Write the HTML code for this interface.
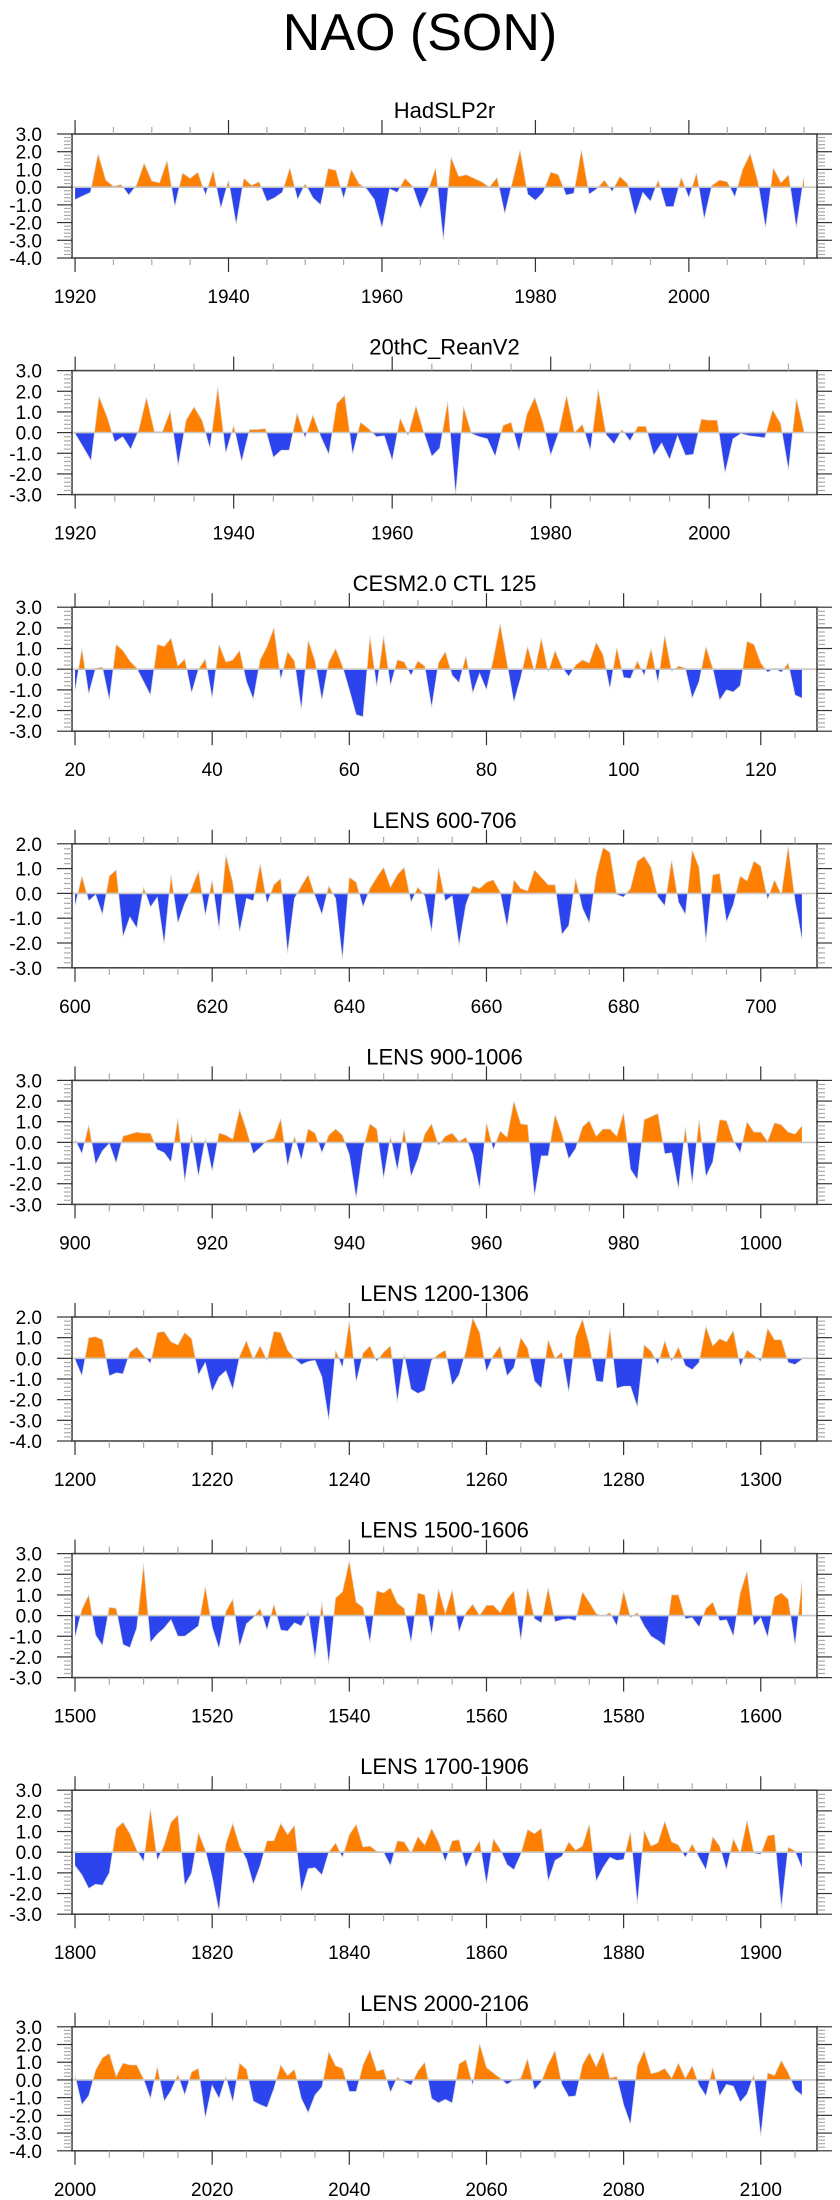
<!DOCTYPE html>
<html><head><meta charset="utf-8"><style>
html,body{margin:0;padding:0;background:#fff;}
svg{display:block;font-family:"Liberation Sans",sans-serif;}
</style></head>
<body>
<svg id="chart" width="840" height="2200" viewBox="0 0 840 2200" xmlns="http://www.w3.org/2000/svg">
<text x="420" y="50" text-anchor="middle" font-size="52" fill="#000">NAO (SON)</text>
</svg>
<script>
const titles = ["HadSLP2r","20thC_ReanV2","CESM2.0 CTL 125","LENS 600-706","LENS 900-1006","LENS 1200-1306","LENS 1500-1606","LENS 1700-1906","LENS 2000-2106"];
const startYears = [1920,1920,20,600,900,1200,1500,1800,2000];
const yMins = [-4,-3,-3,-3,-3,-4,-3,-3,-4];
const yMaxs = [3,3,3,2,3,2,3,3,3];
const xMins = [1919.6,1919.6,19.56,599.56,899.56,1199.56,1499.56,1799.56,1999.56];
const xMaxs = [2016.7,2013.6,128.2,708.2,1008.2,1308.2,1608.2,1908.2,2108.2];
const majorTicks = [
 [1920,1940,1960,1980,2000],[1920,1940,1960,1980,2000],[20,40,60,80,100,120],
 [600,620,640,660,680,700],[900,920,940,960,980,1000],[1200,1220,1240,1260,1280,1300],
 [1500,1520,1540,1560,1580,1600],[1800,1820,1840,1860,1880,1900],[2000,2020,2040,2060,2080,2100]];
const s0 = [-0.7,-0.5,-0.3,1.9,0.4,0.05,0.15,-0.45,0.1,1.35,0.35,0.25,1.5,-1.1,0.8,0.5,0.85,-0.45,0.95,-1.2,0.4,-2.1,0.5,0.1,0.3,-0.8,-0.6,-0.3,1.1,-0.7,0.2,-0.6,-1.0,1.05,0.95,-0.65,1.0,0.2,-0.1,-0.7,-2.3,-0.1,-0.3,0.5,0.05,-1.2,-0.2,1.1,-3.0,1.7,0.6,0.7,0.5,0.3,0.0,0.55,-1.5,0.3,2.1,-0.4,-0.75,-0.3,0.85,0.7,-0.45,-0.35,2.1,-0.4,-0.1,0.4,-0.25,0.6,0.2,-1.6,-0.3,-0.8,0.4,-1.1,-1.1,0.55,-0.6,0.8,-1.8,0.1,0.4,0.3,-0.55,1.0,1.9,0.3,-2.3,1.1,0.25,0.7,-2.3,0.6];
const s1 = [-0.05,-0.7,-1.35,1.75,0.8,-0.45,-0.2,-0.8,0.1,1.7,0.05,0.05,1.05,-1.6,0.6,1.25,0.6,-0.75,2.2,-1.0,0.35,-1.4,0.15,0.15,0.2,-1.2,-0.85,-0.85,0.95,-0.25,0.85,-0.2,-1.05,1.4,1.8,-1.05,0.5,0.2,-0.2,-0.15,-1.35,0.7,-0.15,1.3,0.0,-1.15,-0.75,1.5,-3.0,1.25,-0.05,-0.2,-0.3,-1.15,0.35,0.5,-0.9,0.9,1.7,0.5,-1.1,0.0,1.8,0.0,0.4,-0.85,2.1,-0.1,-0.55,0.15,-0.4,0.3,0.3,-1.1,-0.5,-1.3,-0.15,-1.1,-1.05,0.65,0.6,0.6,-1.95,-0.3,-0.05,-0.15,-0.2,-0.25,1.1,0.45,-1.8,1.65,0.0];
const s2 = [-1.05,1.0,-1.2,0.05,0.1,-1.5,1.2,0.9,0.4,0.05,-0.6,-1.25,1.2,1.1,1.5,0.15,0.5,-1.15,0.0,0.5,-1.4,1.2,0.35,0.45,0.9,-0.6,-1.45,0.45,1.1,2.0,-0.5,0.85,0.4,-1.95,1.4,0.4,-1.5,0.35,1.0,0.15,-1.0,-2.2,-2.3,1.6,-0.85,1.6,-0.8,0.45,0.35,-0.3,0.4,0.15,-1.85,0.3,0.85,-0.3,-0.65,0.65,-1.15,-0.2,-1.0,0.5,2.2,0.3,-1.6,-0.4,1.1,-0.1,1.5,-0.15,0.9,0.1,-0.35,0.2,0.45,0.3,1.3,0.7,-0.95,1.05,-0.4,-0.45,0.4,-0.3,1.0,-0.65,1.65,-0.1,0.15,0.05,-1.4,-0.6,1.1,0.05,-1.5,-1.0,-1.1,-0.8,1.35,1.2,0.3,-0.15,0.05,-0.15,0.3,-1.25,-1.4];
const s3 = [-0.5,0.7,-0.3,-0.05,-0.85,0.7,0.95,-1.75,-0.95,-1.4,0.25,-0.55,-0.15,-2.05,0.75,-1.2,-0.4,0.2,0.9,-0.9,0.55,-1.45,1.55,0.45,-1.55,-0.2,-0.3,1.2,-0.4,0.35,0.6,-2.4,-0.2,0.3,0.75,-0.1,-0.85,0.3,-0.2,-2.65,0.65,0.45,-0.55,0.2,0.65,1.05,0.25,0.75,1.05,-0.35,0.25,-0.1,-1.55,1.05,-0.3,-0.1,-2.1,-0.45,0.3,0.2,0.45,0.55,0.05,-1.35,0.55,0.2,0.1,0.95,0.65,0.35,0.35,-1.65,-1.3,0.6,-0.6,-1.2,0.75,1.85,1.65,-0.05,-0.15,0.2,1.3,1.5,1.05,-0.15,-0.5,1.35,-0.35,-0.85,1.75,1.05,-1.95,0.75,0.8,-1.15,-0.45,0.7,0.5,1.3,1.1,-0.25,0.55,-0.05,1.9,-0.3,-1.85];
const s4 = [0.15,-0.55,0.85,-1.05,-0.4,-0.05,-1.0,0.3,0.4,0.5,0.45,0.45,-0.35,-0.5,-0.95,1.15,-1.9,0.4,-1.65,0.2,-1.4,0.45,0.35,0.15,1.6,0.6,-0.55,-0.25,0.1,0.2,1.15,-1.15,0.3,-0.85,0.65,0.45,-0.5,0.35,0.65,0.35,-0.6,-2.7,-0.3,0.9,0.65,-1.75,0.3,-1.35,0.65,-1.65,-0.8,0.4,0.9,-0.15,0.3,0.45,0.05,0.25,-0.6,-2.25,0.95,-0.35,0.55,0.25,2.0,0.9,0.85,-2.6,-0.65,-0.65,1.35,0.4,-0.8,-0.3,0.75,1.05,0.3,0.65,0.65,0.3,1.45,-1.3,-1.8,1.1,1.25,1.4,-0.55,-0.5,-2.25,0.75,-2.0,1.1,-1.65,-0.95,1.1,1.05,0.1,-0.5,1.0,0.5,0.5,0.05,0.95,0.85,0.5,0.4,0.8];
const s5 = [-0.05,-0.85,1.0,1.05,0.9,-0.85,-0.7,-0.75,0.3,0.55,0.15,-0.25,1.25,1.3,0.8,0.65,1.25,0.95,-0.8,-0.2,-1.6,-0.9,-0.6,-1.5,0.1,0.85,-0.05,0.6,-0.1,1.3,1.25,0.4,0.0,-0.3,-0.15,-0.1,-0.9,-3.0,0.4,-0.45,1.8,-1.15,0.25,0.6,-0.15,0.3,0.6,-2.1,0.2,-1.5,-1.7,-1.55,-0.1,0.2,0.4,-1.3,-0.8,0.35,1.95,1.25,-0.65,0.15,0.6,-0.85,-0.45,1.0,0.5,-1.1,-1.45,0.9,0.0,0.3,-1.65,1.05,1.9,0.65,-1.1,-1.15,1.45,-1.45,-1.35,-1.35,-2.35,0.65,0.35,-0.3,0.85,-0.15,0.55,-0.35,-0.55,-0.2,1.55,0.6,0.95,0.8,1.35,-0.4,0.4,0.15,-0.15,1.45,0.9,0.9,-0.2,-0.3,-0.05];
const s6 = [-1.05,0.3,1.0,-0.95,-1.45,0.4,0.35,-1.4,-1.55,-0.6,2.5,-1.3,-0.9,-0.6,-0.2,-1.0,-1.0,-0.75,-0.5,1.4,-0.55,-1.6,0.2,0.8,-1.5,-0.4,-0.1,0.35,-0.7,0.55,-0.7,-0.75,-0.35,-0.5,0.2,-2.05,0.65,-2.35,0.85,1.15,2.65,0.65,0.4,-1.3,1.2,1.1,1.35,0.6,0.35,-1.3,1.1,1.0,-0.95,1.3,0.1,1.25,-0.8,0.15,0.55,0.0,0.5,0.5,0.15,0.8,1.2,-1.2,1.35,-0.15,-0.35,1.35,-0.3,-0.2,-0.15,-0.25,1.15,0.65,0.1,-0.05,0.15,-0.5,1.2,-0.1,0.15,-0.5,-1.0,-1.2,-1.45,1.0,1.0,-0.15,-0.1,-0.55,0.35,0.65,-0.25,-0.2,-1.0,1.1,2.15,-0.5,-0.1,-1.05,0.9,1.1,0.8,-1.45,1.6];
const s7 = [-0.65,-1.1,-1.75,-1.55,-1.6,-1.0,1.15,1.45,0.9,0.1,-0.45,2.1,-0.4,0.35,1.45,1.8,-1.6,-1.0,0.95,0.1,-1.2,-2.85,0.4,1.4,0.3,-0.35,-1.55,-0.65,0.55,0.55,1.4,0.85,1.3,-1.9,-0.8,-0.75,-1.1,0.0,0.45,-0.25,0.85,1.35,0.25,0.3,0.05,0.0,-0.65,0.55,0.5,-0.05,0.75,0.35,1.15,0.5,-0.45,0.55,0.6,-0.75,0.0,0.55,-1.55,0.65,0.15,-0.6,-0.85,-0.1,1.1,0.9,1.15,-1.4,-0.4,-0.2,0.5,0.1,0.3,1.35,-1.4,-0.75,-0.25,-0.4,-0.35,1.0,-2.5,1.05,0.3,0.45,1.5,0.5,0.35,-0.25,0.4,-0.25,-0.85,0.75,0.3,-0.85,0.65,-0.05,1.55,-0.05,-0.1,0.8,0.85,-2.7,0.25,0.05,-0.75];
const s8 = [0.25,-1.4,-0.9,0.55,1.25,1.5,0.2,0.95,0.85,0.85,0.05,-1.05,0.75,-1.2,-0.6,0.3,-0.85,0.45,0.65,-2.15,-0.3,-1.05,0.2,-1.25,0.95,0.6,-1.2,-1.4,-1.55,-0.5,0.85,0.25,0.6,-1.05,-1.85,-0.85,-0.4,1.6,0.8,0.65,-0.65,-0.65,0.85,1.7,0.5,0.6,-0.7,0.15,-0.1,-0.3,0.5,1.0,-1.05,-1.3,-1.1,-1.3,0.9,1.15,-0.3,2.05,0.7,0.4,0.1,-0.25,0.0,0.1,1.2,-0.55,-0.1,0.9,1.65,-0.25,-0.95,-0.9,0.85,1.55,0.75,1.6,0.1,0.2,-1.4,-2.5,0.8,1.65,0.35,0.45,0.65,0.1,0.95,0.1,0.8,-0.3,-0.9,0.7,-0.9,-0.25,-0.35,-1.25,-0.8,0.3,-3.15,0.4,0.25,1.1,0.4,-0.55,-0.85];
const series = [s0,s1,s2,s3,s4,s5,s6,s7,s8];

const NS = "http://www.w3.org/2000/svg";
const svg = document.getElementById('chart');
const BOX_L = 72, BOX_R = 817, BOX_H = 124;
function mk(tag, attrs, parent){ const e=document.createElementNS(NS,tag); for(const k in attrs) e.setAttribute(k,attrs[k]); (parent||svg).appendChild(e); return e; }

for (let p=0; p<9; p++){
  const top = 134 + 236.6*p, bot = top + BOX_H;
  const g = mk('g',{});
  
  
  const xs = v => BOX_L + (v - xMins[p]) / (xMaxs[p] - xMins[p]) * (BOX_R - BOX_L);
  const ys = v => bot - (v - yMins[p]) / (yMaxs[p] - yMins[p]) * BOX_H;

  const t = mk('text',{x:444.5,y:top-16,'text-anchor':'middle','font-size':22,fill:'#000'},g);
  t.textContent = titles[p];
  
  

  const vals = series[p];
  const pts = vals.map((v,i)=>[startYears[p]+i, v]);
  const full = [];
  for (let i=0;i<pts.length;i++){
    full.push(pts[i]);
    if (i<pts.length-1){
      const a=pts[i], b=pts[i+1];
      if ((a[1]>0&&b[1]<0)||(a[1]<0&&b[1]>0)){
        const f=a[1]/(a[1]-b[1]);
        full.push([a[0]+f*(b[0]-a[0]),0]);
      }
    }
  }
  function area(sign){
    let d='M'+xs(full[0][0]).toFixed(2)+','+ys(0).toFixed(2);
    for(const q of full){ const v = sign>0?Math.max(q[1],0):Math.min(q[1],0); d+='L'+xs(q[0]).toFixed(2)+','+ys(v).toFixed(2); }
    d+='L'+xs(full[full.length-1][0]).toFixed(2)+','+ys(0).toFixed(2)+'Z';
    return d;
  }
  const pos = mk('path',{d:area(1),fill:'#ff8000',stroke:'none'},g);
  
  
  const neg = mk('path',{d:area(-1),fill:'#2b44ee',stroke:'none'},g);
  
  
  const ld = pts.map((q,i)=>(i?'L':'M')+xs(q[0]).toFixed(2)+','+ys(q[1]).toFixed(2)).join('');
  const ln = mk('path',{d:ld,fill:'none',stroke:'#d8d8d8','stroke-width':0.7},g);
  
  
  const z = mk('line',{x1:BOX_L,x2:BOX_R,y1:ys(0),y2:ys(0),stroke:'#c8c8c8','stroke-width':1.6},g);
  
  

  const box = mk('rect',{x:BOX_L,y:top,width:BOX_R-BOX_L,height:BOX_H,fill:'none',stroke:'#444','stroke-width':1.6},g);
  
  

  for (let k=Math.round(yMins[p]*5); k<=Math.round(yMaxs[p]*5); k++){
    const v=k/5, y=ys(v), major=(k%5===0);
    const len = major?15:8, col = major?'#333':'#aaa';
    mk('line',{x1:BOX_L-len,x2:BOX_L,y1:y,y2:y,stroke:col,'stroke-width':1.2},g);
    mk('line',{x1:BOX_R,x2:BOX_R+len,y1:y,y2:y,stroke:col,'stroke-width':1.2},g);
    if (major){
      const lb = mk('text',{x:42,y:y+7,'text-anchor':'end','font-size':19,fill:'#000'},g);
      lb.textContent = v.toFixed(1);
      
      
    }
  }
  const mt = majorTicks[p];
  for (let v=Math.ceil(xMins[p]/5)*5; v<=xMaxs[p]; v+=5){
    const x=xs(v), major=mt.includes(v);
    const len = major?14:7, col = major?'#333':'#aaa';
    mk('line',{x1:x,x2:x,y1:top-len,y2:top,stroke:col,'stroke-width':1.2},g);
    mk('line',{x1:x,x2:x,y1:bot,y2:bot+len,stroke:col,'stroke-width':1.2},g);
  }
  for (const v of mt){
    const lb = mk('text',{x:xs(v),y:top+169,'text-anchor':'middle','font-size':19,fill:'#000'},g);
    lb.textContent = String(v);
    
    
  }
}
</script>
</body></html>
